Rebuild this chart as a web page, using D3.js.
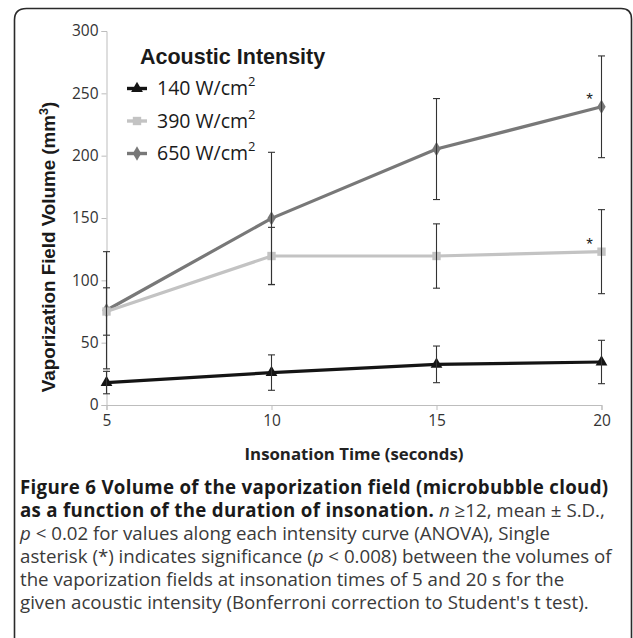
<!DOCTYPE html>
<html><head><meta charset="utf-8">
<script src="https://cdn.jsdelivr.net/npm/d3@7"></script>
<style>
body{margin:0;background:#fff;}
svg{display:block;}
</style></head>
<body>
<script>
const times = [5, 10, 15, 20];
const seriesNames = ["140 W/cm", "390 W/cm", "650 W/cm"];
const v140 = [18, 26, 32.6, 34.5];
const e140 = [9, 14.2, 14.7, 17.4];
const v390 = [75, 119.5, 119.5, 123];
const e390 = [19, 23, 25.8, 33.7];
const v650 = [76, 149.7, 205.3, 239.2];
const e650 = [47, 53, 40.5, 40.8];
const yTicks = [0, 50, 100, 150, 200, 250, 300];
const xTicks = [5, 10, 15, 20];
const starTimes = [20];

const W = 633, H = 638;
const svg = d3.select("body").append("svg").attr("width", W).attr("height", H);

// frame
svg.append("path")
  .attr("d", "M14.5,660 L14.5,20 Q14.5,8.5 26.5,8.5 L621,8.5 Q631.5,8.5 631.5,19 L631.5,660")
  .attr("fill", "none").attr("stroke", "#2a2a2a").attr("stroke-width", 1.6);

const x = d3.scaleLinear().domain([5, 20]).range([106.5, 601.5]);
const y = d3.scaleLinear().domain([0, 300]).range([405, 31]);

const axisColor = "#bdbdbd";
const tickFont = "'Open Sans', sans-serif";

// y axis
const gy = svg.append("g").attr("transform", "translate(106.5,0)")
  .call(d3.axisLeft(y).tickValues(yTicks).tickSize(5).tickPadding(3));
gy.select(".domain").attr("stroke", axisColor);
gy.selectAll(".tick line").attr("stroke", axisColor);
gy.selectAll(".tick text").attr("font-family", tickFont).attr("font-size", 15.5).attr("fill", "#333");

// x axis
const gx = svg.append("g").attr("transform", "translate(0,405)")
  .call(d3.axisBottom(x).tickValues(xTicks).tickSize(5).tickPadding(5));
gx.select(".domain").attr("stroke", axisColor);
gx.selectAll(".tick line").attr("stroke", axisColor);
gx.selectAll(".tick text").attr("font-family", tickFont).attr("font-size", 15.5).attr("fill", "#333");

// axis titles
svg.append("text")
  .attr("transform", "translate(55,247) rotate(-90)")
  .attr("text-anchor", "middle")
  .attr("font-family", "'Liberation Sans', Arial, sans-serif")
  .attr("font-weight", "bold").attr("font-size", 18.8).attr("fill", "#1a1a1a")
  .html('Vaporization Field Volume (mm<tspan dy="-7" font-size="12.5">3</tspan><tspan dy="7">)</tspan>');

svg.append("text")
  .attr("x", 354).attr("y", 460)
  .attr("text-anchor", "middle")
  .attr("font-family", "'Open Sans', sans-serif")
  .attr("font-weight", "bold").attr("font-size", 16.8).attr("fill", "#222")
  .text("Insonation Time (seconds)");

const series = [
  {name: seriesNames[0], v: v140, e: e140, color: "#141414", shape: d3.symbolTriangle, size: 60},
  {name: seriesNames[1], v: v390, e: e390, color: "#c3c3c3", shape: d3.symbolSquare, size: 70},
  {name: seriesNames[2], v: v650, e: e650, color: "#787878", shape: d3.symbolDiamond, size: 60}
];

const line = d3.line().x((d, i) => x(times[i])).y(d => y(d));

[series[2], series[1], series[0]].forEach(s => {
  svg.append("path").datum(s.v).attr("d", line)
    .attr("fill", "none").attr("stroke", s.color).attr("stroke-width", 3.2);
  svg.selectAll(null).data(s.v).enter().append("path")
    .attr("transform", (d, i) => `translate(${x(times[i])},${y(d)})`)
    .attr("d", d3.symbol().type(s.shape).size(s.size))
    .attr("fill", s.color);
});

// error bars
series.forEach(s => {
  const g = svg.append("g").attr("stroke", "#333").attr("stroke-width", 1.1);
  s.v.forEach((d, i) => {
    const cx = x(times[i]);
    const top = y(d + s.e[i]), bot = y(d - s.e[i]);
    g.append("line").attr("x1", cx).attr("x2", cx).attr("y1", top).attr("y2", bot);
    g.append("line").attr("x1", cx - 3.5).attr("x2", cx + 3.5).attr("y1", top).attr("y2", top);
    g.append("line").attr("x1", cx - 3.5).attr("x2", cx + 3.5).attr("y1", bot).attr("y2", bot);
  });
});

// asterisks
[series[2], series[1]].forEach(s => {
  starTimes.forEach(t => {
    const i = times.indexOf(t);
    svg.append("text")
      .attr("x", x(t) - 12).attr("y", y(s.v[i]) - 2)
      .attr("text-anchor", "middle")
      .attr("font-family", "'Liberation Sans', Arial, sans-serif")
      .attr("font-size", 17).attr("fill", "#222")
      .text("*");
  });
});

// legend
svg.append("text").attr("x", 140).attr("y", 64)
  .attr("font-family", "'Liberation Sans', Arial, sans-serif")
  .attr("font-weight", "bold").attr("font-size", 21.5).attr("fill", "#1a1a1a")
  .text("Acoustic Intensity");

series.forEach((s, k) => {
  const ly = 88.5 + k * 32.5;
  svg.append("line").attr("x1", 127).attr("x2", 147).attr("y1", ly).attr("y2", ly)
    .attr("stroke", s.color).attr("stroke-width", 3.4);
  svg.append("path").attr("transform", `translate(137,${ly})`)
    .attr("d", d3.symbol().type(s.shape).size(s.size)).attr("fill", s.color);
  svg.append("text").attr("x", 157).attr("y", ly + 6.5)
    .attr("font-family", "'Open Sans', sans-serif")
    .attr("font-size", 19.5).attr("fill", "#1a1a1a")
    .html(`${s.name}<tspan dy="-9" font-size="13">2</tspan>`);
});

// caption
const cap = svg.append("g").attr("font-family", "'Open Sans', sans-serif").attr("font-size", 18.7);
const capLines = [
  [{t: "Figure 6 Volume of the vaporization field (microbubble cloud)", b: true}],
  [{t: "as a function of the duration of insonation.", b: true}, {t: " "}, {t: "n", i: true}, {t: " ≥12, mean ± S.D.,"}],
  [{t: "p", i: true}, {t: " < 0.02 for values along each intensity curve (ANOVA), Single"}],
  [{t: "asterisk (*) indicates significance ("}, {t: "p", i: true}, {t: " < 0.008) between the volumes of"}],
  [{t: "the vaporization fields at insonation times of 5 and 20 s for the"}],
  [{t: "given acoustic intensity (Bonferroni correction to Student's t test)."}]
];
capLines.forEach((ln, k) => {
  const tx = cap.append("text").attr("x", 20).attr("y", 494 + k * 23).attr("xml:space", "preserve");
  ln.forEach(p => {
    tx.append("tspan").text(p.t)
      .attr("font-weight", p.b ? "bold" : "normal")
      .attr("font-style", p.i ? "italic" : "normal")
      .attr("letter-spacing", p.b ? 0.3 : 0)
      .attr("fill", p.b ? "#1a1a1a" : "#3a3a3a");
  });
});
</script>
</body></html>
